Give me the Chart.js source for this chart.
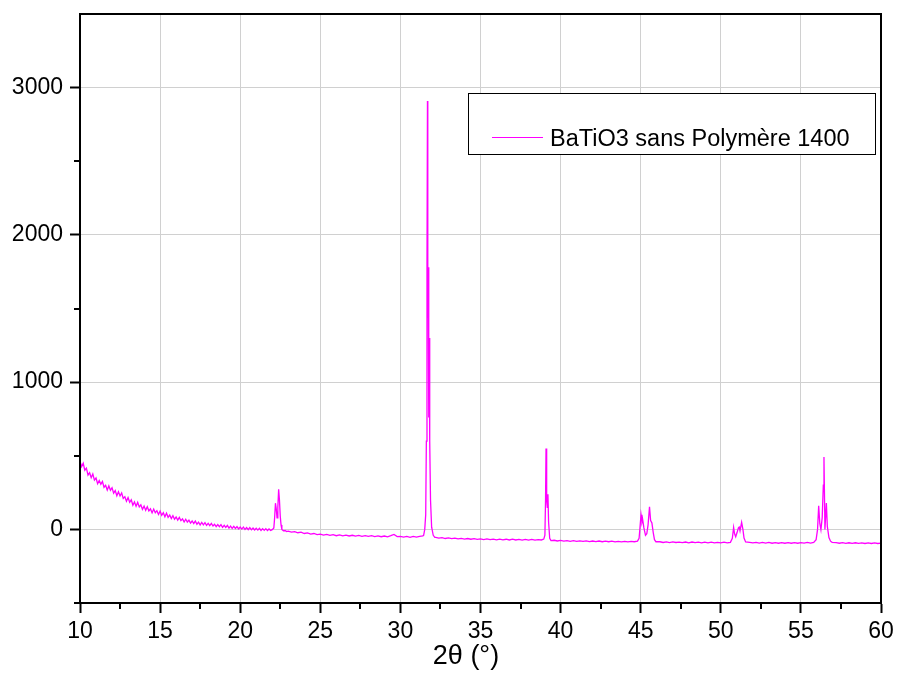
<!DOCTYPE html>
<html>
<head>
<meta charset="utf-8">
<script src="https://cdn.jsdelivr.net/npm/chart.js@4.4.1/dist/chart.umd.min.js"></script>
<style>
  html, body { margin: 0; padding: 0; background: #fff; }
  #xrd { display: block; }
</style>
</head>
<body>
<canvas id="xrd" width="897" height="673"></canvas>
<script>
// XRD pattern, BaTiO3 without polymer, 1400 °C
const seriesLabel = "BaTiO3 sans Polymère 1400"
const xTitle = "2θ (°)"
const xTicks = [10, 15, 20, 25, 30, 35, 40, 45, 50, 55, 60]
const yTicks = [0, 1000, 2000, 3000]
const xMinor = [12.5, 17.5, 22.5, 27.5, 32.5, 37.5, 42.5, 47.5, 52.5, 57.5]
const yMinor = [-500, 500, 1500, 2500]

const twoTheta = [
  10.0, 10.1, 10.2, 10.3, 10.4, 10.5, 10.6, 10.7, 10.8, 10.9,
  11.0, 11.1, 11.2, 11.3, 11.4, 11.5, 11.6, 11.7, 11.8, 11.9,
  12.0, 12.1, 12.2, 12.3, 12.4, 12.5, 12.6, 12.7, 12.8, 12.9,
  13.0, 13.1, 13.2, 13.3, 13.4, 13.5, 13.6, 13.7, 13.8, 13.9,
  14.0, 14.1, 14.2, 14.3, 14.4, 14.5, 14.6, 14.7, 14.8, 14.9,
  15.0, 15.1, 15.2, 15.3, 15.4, 15.5, 15.6, 15.7, 15.8, 15.9,
  16.0, 16.1, 16.2, 16.3, 16.4, 16.5, 16.6, 16.7, 16.8, 16.9,
  17.0, 17.1, 17.2, 17.3, 17.4, 17.5, 17.6, 17.7, 17.8, 17.9,
  18.0, 18.1, 18.2, 18.3, 18.4, 18.5, 18.6, 18.7, 18.8, 18.9,
  19.0, 19.1, 19.2, 19.3, 19.4, 19.5, 19.6, 19.7, 19.8, 19.9,
  20.0, 20.1, 20.2, 20.3, 20.4, 20.5, 20.6, 20.7, 20.8, 20.9,
  21.0, 21.1, 21.2, 21.3, 21.4, 21.5, 21.6, 21.7, 21.8, 21.9,
  // (100) / (001) doublet
  22.0, 22.1, 22.15, 22.2, 22.25, 22.3, 22.35, 22.4, 22.45, 22.5,
  22.55, 22.6, 22.7, 22.8, 22.9,
  23.0, 23.2, 23.4, 23.6, 23.8, 24.0, 24.2, 24.4, 24.6, 24.8,
  25.0, 25.2, 25.4, 25.6, 25.8, 26.0, 26.2, 26.4, 26.6, 26.8,
  27.0, 27.2, 27.4, 27.6, 27.8, 28.0, 28.2, 28.4, 28.6, 28.8,
  29.0, 29.2, 29.4, 29.6, 29.8, 30.0, 30.2, 30.4, 30.6, 30.8,
  31.0, 31.2, 31.4,
  // (110) main peak
  31.45, 31.52, 31.58, 31.62, 31.66, 31.69, 31.71, 31.73, 31.76, 31.78,
  31.80, 31.83, 31.88, 31.95, 32.05, 32.15,
  32.2, 32.4, 32.6, 32.8, 33.0, 33.2, 33.4, 33.6, 33.8, 34.0,
  34.2, 34.4, 34.6, 34.8, 35.0, 35.2, 35.4, 35.6, 35.8, 36.0,
  36.2, 36.4, 36.6, 36.8, 37.0, 37.2, 37.4, 37.6, 37.8, 38.0,
  38.2, 38.4, 38.6, 38.8,
  // (111)
  38.95, 39.02, 39.06, 39.09, 39.13, 39.17, 39.21, 39.25, 39.32, 39.4,
  39.6, 39.8, 40.0, 40.2, 40.4, 40.6, 40.8, 41.0, 41.2, 41.4,
  41.6, 41.8, 42.0, 42.2, 42.4, 42.6, 42.8, 43.0, 43.2, 43.4,
  43.6, 43.8, 44.0, 44.2, 44.4, 44.6, 44.8,
  // (002) / (200)
  44.9, 44.96, 45.02, 45.08, 45.12, 45.2, 45.3, 45.38, 45.46, 45.55,
  45.62, 45.7, 45.78, 45.86, 45.95,
  46.2, 46.4, 46.6, 46.8, 47.0, 47.2, 47.4, 47.6, 47.8, 48.0,
  48.2, 48.4, 48.6, 48.8, 49.0, 49.2, 49.4, 49.6, 49.8, 50.0,
  50.2, 50.4, 50.6,
  // (102) / (201)
  50.72, 50.8, 50.86, 50.93, 51.02, 51.1, 51.15, 51.2, 51.3, 51.38,
  51.45, 51.55,
  51.8, 52.0, 52.2, 52.4, 52.6, 52.8, 53.0, 53.2, 53.4, 53.6,
  53.8, 54.0, 54.2, 54.4, 54.6, 54.8, 55.0, 55.2, 55.4, 55.6,
  55.8,
  // (112) / (211)
  55.95, 56.04, 56.11, 56.18, 56.25, 56.33, 56.4, 56.44, 56.5, 56.55,
  56.59, 56.65, 56.75, 56.85, 56.95,
  57.2, 57.4, 57.6, 57.8, 58.0, 58.2, 58.4, 58.6, 58.8, 59.0,
  59.2, 59.4, 59.6, 59.8, 60.0
]

const intensity = [
  463, 426, 449, 402, 416, 369, 385, 351, 376, 335,
  349, 310, 332, 306, 326, 286, 299, 267, 295, 266,
  283, 246, 263, 228, 255, 227, 247, 210, 222, 191,
  216, 184, 201, 164, 186, 157, 183, 152, 166, 136,
  158, 130, 154, 125, 139, 112, 138, 113, 127, 101,
  124, 96, 113, 85, 110, 82, 97, 73, 93, 69,
  84, 63, 81, 59, 71, 50, 69, 50, 63, 43,
  57, 40, 56, 35, 49, 30, 47, 31, 46, 27,
  41, 25, 40, 23, 35, 18, 32, 18, 32, 14,
  28, 13, 27, 9, 22, 6, 20, 6, 19, 3,
  16, 2, 15, -1, 12, -2, 12, -3, 9, -4,
  8, -5, 7, -7, 5, -7, 5, -8, 3, -7,
  -2, 10, 80, 178, 140, 78, 150, 272, 200, 90,
  30, 0, -10, -8, -15,
  -12, -19, -15, -23, -19, -28, -24, -32, -28, -36,
  -32, -39, -34, -41, -36, -43, -37, -44, -39, -45,
  -40, -46, -41, -47, -42, -48, -43, -49, -44, -50,
  -45, -51, -43, -34, -49, -47, -53, -48, -54, -48,
  -52, -47, -44,
  -40, 0, 100, 600, 1800, 2910, 1440, 1780, 1000, 760,
  1300, 600, 200, 15, -40, -55,
  -55, -60, -56, -62, -58, -63, -59, -65, -61, -66,
  -62, -67, -63, -68, -64, -69, -65, -70, -66, -71,
  -66, -71, -67, -72, -67, -72, -68, -73, -68, -73,
  -68, -73, -69, -72,
  -66, -40, 200, 549, 200, 150, 238, 50, -60, -76,
  -74, -79, -75, -80, -76, -81, -77, -82, -78, -82,
  -78, -83, -79, -83, -79, -84, -80, -84, -80, -85,
  -81, -85, -81, -85, -81, -84, -80,
  -60, 20, 100, 50, 68, 10, -40, -30, 30, 154,
  60, 43, -20, -70, -84,
  -84, -89, -85, -90, -85, -89, -86, -90, -86, -91,
  -86, -90, -87, -91, -87, -91, -87, -92, -88, -91,
  -87, -91, -88,
  -60, 14, -30, -50, -20, 10, 16, -10, 48, 0,
  -59, -85,
  -88, -92, -88, -93, -89, -93, -89, -94, -90, -94,
  -90, -94, -90, -94, -90, -94, -90, -93, -89, -93,
  -89,
  -70, 0, 161, 40, -2, 80, 300, 492, 0, 100,
  179, 20, -55, -80, -88,
  -90, -94, -90, -95, -91, -95, -91, -95, -92, -96,
  -92, -96, -92, -96, -93
]

const MAGENTA = "#ff00ff"
const FONT = "Arial, 'Liberation Sans', sans-serif"

// frame, minor ticks, axis title and the boxed legend
const decorations = {
  id: "decorations",
  afterDraw(chart) {
    const ctx = chart.ctx
    const area = chart.chartArea
    const xs = chart.scales.x
    const ys = chart.scales.y
    ctx.save()
    ctx.strokeStyle = "#000"
    ctx.lineWidth = 2
    ctx.strokeRect(area.left, area.top, area.right - area.left, area.bottom - area.top)

    ctx.beginPath()
    xMinor.forEach(v => {
      const px = Math.round(xs.getPixelForValue(v))
      ctx.moveTo(px, area.bottom)
      ctx.lineTo(px, area.bottom + 6)
    })
    yMinor.forEach(v => {
      const py = Math.round(ys.getPixelForValue(v))
      ctx.moveTo(area.left, py)
      ctx.lineTo(area.left - 6, py)
    })
    ctx.stroke()

    ctx.fillStyle = "#000"
    ctx.font = "27px " + FONT
    ctx.textAlign = "center"
    ctx.textBaseline = "alphabetic"
    ctx.fillText(xTitle, 466, 664)

    // legend box
    ctx.fillStyle = "#fff"
    ctx.fillRect(468, 93, 407, 61)
    ctx.lineWidth = 1
    ctx.strokeStyle = "#000"
    ctx.strokeRect(468.5, 93.5, 407, 61)
    ctx.strokeStyle = MAGENTA
    ctx.beginPath()
    ctx.moveTo(492, 137.5)
    ctx.lineTo(543, 137.5)
    ctx.stroke()
    ctx.fillStyle = "#000"
    ctx.font = "23.5px " + FONT
    ctx.textAlign = "left"
    ctx.fillText(seriesLabel, 550, 146)
    ctx.restore()
  }
}

new Chart(document.getElementById("xrd"), {
  type: "line",
  data: {
    datasets: [
      {
        label: seriesLabel,
        data: twoTheta.map((t, i) => ({ x: t, y: intensity[i] })),
        borderColor: MAGENTA,
        borderWidth: 1.3,
        pointRadius: 0,
        tension: 0,
        fill: false,
      },
    ],
  },
  options: {
    responsive: false,
    animation: false,
    layout: { padding: { top: 14, right: 16, left: 0, bottom: 0 } },
    plugins: {
      legend: { display: false },
      tooltip: { enabled: false },
    },
    scales: {
      x: {
        type: "linear",
        min: 10,
        max: 60,
        afterBuildTicks: s => { s.ticks = xTicks.map(v => ({ value: v })) },
        afterFit: s => { s.height = 70; s.paddingLeft = 0; s.paddingRight = 0 },
        ticks: { color: "#000", font: { size: 23, family: FONT }, padding: 5, maxRotation: 0,
                 callback: v => String(v) },
        grid: { color: "#d0d0d0", lineWidth: 1, tickColor: "#000", tickLength: 10, tickWidth: 2 },
        border: { color: "#000", width: 2 },
      },
      y: {
        min: -500,
        max: 3500,
        afterBuildTicks: s => { s.ticks = yTicks.map(v => ({ value: v })) },
        afterFit: s => { s.width = 80; s.paddingTop = 0; s.paddingBottom = 0 },
        ticks: { color: "#000", font: { size: 23, family: FONT }, padding: 7,
                 callback: v => String(v) },
        grid: { color: "#d0d0d0", lineWidth: 1, tickColor: "#000", tickLength: 10, tickWidth: 2 },
        border: { color: "#000", width: 2 },
      },
    },
  },
  plugins: [decorations],
})
</script>
</body>
</html>
